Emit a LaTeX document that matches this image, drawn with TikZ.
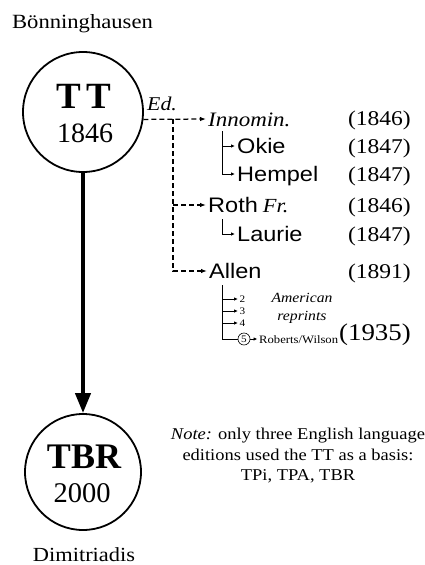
\documentclass[tikz,border=0pt]{standalone}
\usepackage{fontspec}
\setmainfont{Liberation Serif}
\newfontfamily\wserif{Liberation Serif}[FakeStretch=1.12]
\newfontfamily\wital{Liberation Serif Italic}[FakeStretch=1.12]
\newfontfamily\wsans{Liberation Sans}[FakeStretch=1.12]
\usetikzlibrary{arrows.meta}
\newcommand\fs[1]{\fontsize{#1}{#1}\selectfont}
\begin{document}
\begin{tikzpicture}[x=1pt,y=-1pt,
  work/.style={circle, draw, line width=1.8pt, inner sep=0pt},
  entry/.style={anchor=base west, inner xsep=2pt, inner ysep=0pt, text height=14pt, text depth=0pt},
  year/.style={anchor=base east, inner sep=0pt, font=\wserif\fs{21}},
  num/.style={anchor=west, inner xsep=1.5pt, inner ysep=0pt, text height=6.8pt, text depth=0pt, font=\wserif\fs{10}},
  edline/.style={line width=1.25pt, dash pattern=on 5pt off 3pt},
  edarrow/.style={edline, -{Latex[length=6pt,width=4.5pt]}},
  subline/.style={line width=0.8pt},
  subarrow/.style={subline, -{Latex[length=4pt,width=3.5pt]}},
]
\useasboundingbox (0,0) rectangle (425,565);

% the two works and their authors
\node[anchor=base, font=\wserif\fs{20.2}] (bon) at (82.5,28) {Bönninghausen};
\node[work, minimum size=120pt] (tt) at (83,112) {};
\node[anchor=base, font=\bfseries\fs{37}] (ttname) at (84,108) {T\kern5pt T};
\node[anchor=base, font=\fs{28}] (ttyear) at (85,142) {1846};

\node[work, minimum size=116pt] (tbr) at (83,472) {};
\node[anchor=base, font=\bfseries\fs{36}] (tbrname) at (84,468) {TBR};
\node[anchor=base, font=\fs{28.5}] (tbryear) at (82,502) {2000};
\node[anchor=base, font=\wserif\fs{20}] (dim) at (84,561) {Dimitriadis};

\draw[line width=4pt, -{Triangle[length=20pt,width=15pt]}] (tt) -- (tbr);

% editions
\node[anchor=base west, inner sep=0pt, font=\wital\fs{19.5}] (ed) at (147,110) {Ed.};

\node[entry, font=\wital\fs{20.5}] (innomin) at (206,126) {Innomin.};
\node[entry, font=\wsans\fs{21}] (okie) at (235,153) {Okie};
\node[entry, font=\wsans\fs{21}] (hempel) at (235,181) {Hempel};
\node[entry, font=\wsans\fs{21}] (roth) at (206,212) {Roth\kern5pt{\wital\fs{20}Fr.}};
\node[entry, font=\wsans\fs{21}] (laurie) at (235,241) {Laurie};
\node[entry, font=\wsans\fs{21}] (allen) at (207,278) {Allen};

\node[year] (y1) at (411,125) {(1846)};
\node[year] (y2) at (411,153) {(1847)};
\node[year] (y3) at (411,181) {(1847)};
\node[year] (y4) at (411,212) {(1846)};
\node[year] (y5) at (411,241) {(1847)};
\node[year] (y6) at (411,278) {(1891)};
\node[year, font=\wserif\fs{24}] (y7) at (411,340) {(1935)};

% American reprints of Allen
\node[num] (n2) at (238,299) {2};
\node[num] (n3) at (238,311) {3};
\node[num] (n4) at (238,323) {4};
\node[draw, circle, line width=0.6pt, minimum size=12pt, inner sep=0pt, font=\wserif\fs{10}] (c5) at (244,339) {5};
\node[anchor=base west, inner xsep=1.5pt, inner ysep=0pt, text height=8pt, text depth=0pt, font=\wserif\fs{11.3}] (rw) at (257.5,343) {Roberts/Wilson};
\node[align=center, font=\wital\fontsize{14}{18}\selectfont] (amer) at (302,308) {American\\reprints};

\node[align=center, font=\wserif\fontsize{16.5}{20.5}\selectfont] (note) at (298,456)
  {{\wital Note:} only three English language\\editions used the TT as a basis:\\TPi, TPA, TBR};

% dashed edition tree
\coordinate (j) at (173,119);
\draw[edarrow] (tt.-7) -- (innomin.west);
\draw[edarrow] (j) |- (allen.west);
\draw[edarrow] (j |- roth.west) -- (roth.west);

% sub-brackets
\coordinate (ib) at (222,131);
\draw[subarrow] (ib) |- (okie.west);
\draw[subarrow] (ib) |- (hempel.west);
\coordinate (lb) at (222,219);
\draw[subarrow] (lb) |- (laurie.west);
\coordinate (ab) at (222,285);
\draw[subarrow] (ab) |- (n2.west);
\draw[subarrow] (ab) |- (n3.west);
\draw[subarrow] (ab) |- (n4.west);
\draw[subline] (ab) |- (c5.west);
\draw[subarrow] (c5.east) -- (rw.west);
\end{tikzpicture}
\end{document}
